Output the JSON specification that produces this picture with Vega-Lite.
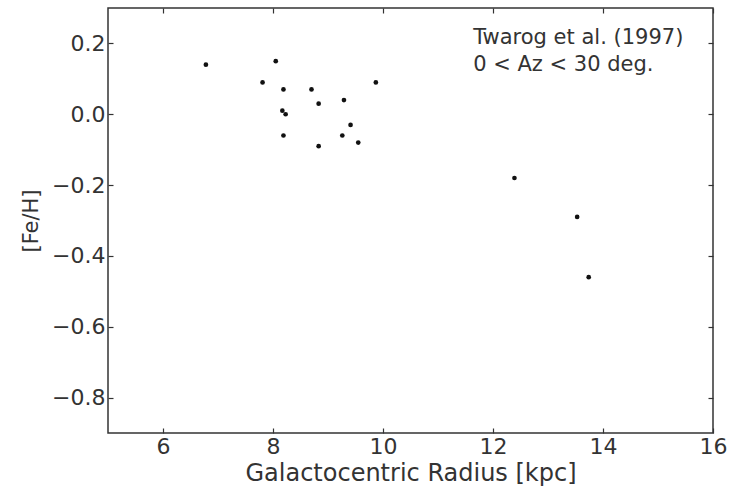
{
  "$schema": "https://vega.github.io/schema/vega-lite/v6.json",
  "width": 605,
  "height": 425,
  "autosize": {"type": "none"},
  "padding": {"left": 108, "top": 8, "right": 27, "bottom": 57},
  "background": "white",
  "config": {
    "font": "DejaVu Sans",
    "view": {"stroke": "#333", "strokeWidth": 1.5},
    "axis": {
      "grid": false,
      "domain": false,
      "tickColor": "#333",
      "tickWidth": 1.2,
      "tickSize": -5,
      "labelFlush": false,
      "labelFont": "DejaVu Sans",
      "labelFontSize": 22,
      "labelColor": "#333",
      "titleFont": "DejaVu Sans",
      "titleFontWeight": "normal",
      "titleColor": "#333"
    }
  },
  "datasets": {
    "pts": [
      {"R": 6.78, "FeH": 0.14},
      {"R": 8.05, "FeH": 0.15},
      {"R": 7.81, "FeH": 0.09},
      {"R": 8.19, "FeH": 0.07},
      {"R": 8.70, "FeH": 0.07},
      {"R": 9.87, "FeH": 0.09},
      {"R": 9.29, "FeH": 0.04},
      {"R": 8.83, "FeH": 0.03},
      {"R": 8.17, "FeH": 0.01},
      {"R": 8.23, "FeH": 0.0},
      {"R": 9.41, "FeH": -0.03},
      {"R": 8.19, "FeH": -0.06},
      {"R": 9.26, "FeH": -0.06},
      {"R": 9.55, "FeH": -0.08},
      {"R": 8.83, "FeH": -0.09},
      {"R": 12.39, "FeH": -0.18},
      {"R": 13.53, "FeH": -0.29},
      {"R": 13.74, "FeH": -0.46}
    ],
    "notes": [
      {"R": 11.64, "FeH": 0.197, "label": "Twarog et al. (1997)"},
      {"R": 11.64, "FeH": 0.121, "label": "0 < Az < 30 deg."}
    ]
  },
  "layer": [
    {
      "data": {"name": "pts"},
      "mark": {"type": "circle", "size": 22, "color": "#111", "opacity": 1},
      "encoding": {
        "x": {
          "field": "R", "type": "quantitative",
          "scale": {"domain": [5, 16], "nice": false, "zero": false},
          "axis": {"values": [6, 8, 10, 12, 14, 16], "title": "Galactocentric Radius [kpc]", "titleFontSize": 24, "labelPadding": 8, "titlePadding": 4}
        },
        "y": {
          "field": "FeH", "type": "quantitative",
          "scale": {"domain": [-0.9, 0.3], "nice": false, "zero": false},
          "axis": {"values": [-0.8, -0.6, -0.4, -0.2, 0.0, 0.2], "format": ".1f", "title": "[Fe/H]", "titleFontSize": 21, "labelPadding": 8, "titlePadding": 10}
        }
      }
    },
    {
      "data": {"name": "pts"},
      "mark": {"type": "circle", "size": 0, "opacity": 0},
      "encoding": {
        "x": {"field": "R", "type": "quantitative", "axis": {"orient": "top", "values": [6, 8, 10, 12, 14, 16], "labels": false, "title": null}},
        "y": {"field": "FeH", "type": "quantitative", "axis": {"orient": "right", "values": [-0.8, -0.6, -0.4, -0.2, 0.0, 0.2], "labels": false, "title": null}}
      }
    },
    {
      "data": {"name": "notes"},
      "mark": {"type": "text", "align": "left", "baseline": "alphabetic", "font": "DejaVu Sans", "fontSize": 21, "color": "#333"},
      "encoding": {
        "x": {"field": "R", "type": "quantitative", "axis": null},
        "y": {"field": "FeH", "type": "quantitative", "axis": null},
        "text": {"field": "label"}
      }
    }
  ],
  "resolve": {"axis": {"x": "independent", "y": "independent"}}
}
